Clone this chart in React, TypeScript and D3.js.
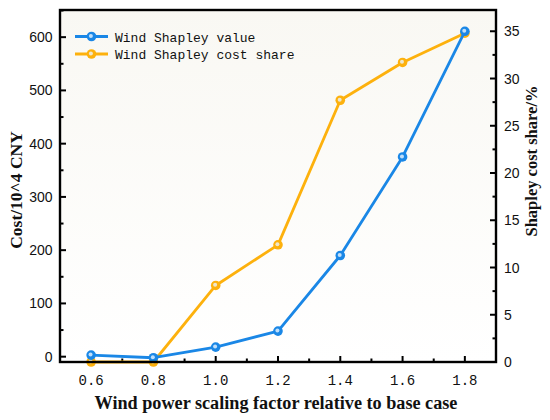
import React from 'react';
import * as d3 from 'd3';

const factors = [0.6, 0.8, 1.0, 1.2, 1.4, 1.6, 1.8];
const shapleyValue = [3, -2, 18, 48, 190, 375, 611];
const costShare = [0, 0, 8.1, 12.4, 27.7, 31.7, 34.8];
const leftTicks = [0, 100, 200, 300, 400, 500, 600];
const rightTicks = [0, 5, 10, 15, 20, 25, 30, 35];
const xTicks = [0.6, 0.8, 1.0, 1.2, 1.4, 1.6, 1.8];

const W = 550;
const H = 420;
const margin = { top: 10, right: 54, bottom: 58, left: 60 };

const BLUE = '#1a87e6';
const ORANGE = '#fdb10d';

const App: React.FC = () => {
  const x = d3.scaleLinear().domain([0.5, 1.9]).range([margin.left, W - margin.right]);
  const yL = d3.scaleLinear().domain([-10, 651]).range([H - margin.bottom, margin.top]);
  const yR = d3.scaleLinear().domain([0, 37.25]).range([H - margin.bottom, margin.top]);

  const x0 = margin.left;
  const x1 = W - margin.right;
  const y0 = H - margin.bottom;
  const y1 = margin.top;

  const blueLine = d3.line<number>()
    .x((_, i) => x(factors[i]))
    .y(d => yL(d));
  const orangeLine = d3.line<number>()
    .x((_, i) => x(factors[i]))
    .y(d => yR(d));

  const xMinor = d3.range(0.5, 1.95, 0.1).map(v => +v.toFixed(1)).filter(v => !xTicks.includes(v));
  const lMinor = d3.range(50, 651, 100);
  const rMinor = d3.range(2.5, 37.3, 5);

  const tickFont = '"Liberation Sans", Arial, sans-serif';
  const monoFont = '"Liberation Mono", "DejaVu Sans Mono", monospace';
  const titleFont = '"Liberation Serif", "Times New Roman", serif';

  // ball-like marker with a pale highlight
  const marker = (cx: number, cy: number, color: string, key: string) => (
    <g key={key}>
      <circle cx={cx} cy={cy} r={4.8} fill={color} />
      <circle cx={cx - 0.6} cy={cy - 0.6} r={2} fill="#eaf5ff" opacity={0.8} />
    </g>
  );

  return (
    <svg width={W} height={H} style={{ position: 'absolute', left: 0, top: 0, background: '#fff' }}>
      <defs>
        <linearGradient id="bg" x1="0" y1="0" x2="0" y2="1">
          <stop offset="0" stopColor="#f9f8f3" />
          <stop offset="1" stopColor="#ffffff" />
        </linearGradient>
      </defs>
      <rect x={x0} y={y1} width={x1 - x0} height={y0 - y1} fill="url(#bg)" />

      {/* x ticks */}
      {xTicks.map(t => (
        <g key={'xt' + t}>
          <line x1={x(t)} x2={x(t)} y1={y0} y2={y0 - 6} stroke="#000" strokeWidth={2} />
          <text x={x(t)} y={y0 + 23} textAnchor="middle" fontFamily={monoFont} fontSize={14} fill="#111">
            {t.toFixed(1)}
          </text>
        </g>
      ))}
      {xMinor.map(t => (
        <line key={'xm' + t} x1={x(t)} x2={x(t)} y1={y0} y2={y0 - 3.5} stroke="#000" strokeWidth={2} />
      ))}

      {/* left ticks */}
      {leftTicks.map(t => (
        <g key={'lt' + t}>
          <line x1={x0} x2={x0 + 6} y1={yL(t)} y2={yL(t)} stroke="#000" strokeWidth={2} />
          <text x={x0 - 7.5} y={yL(t) + 5} textAnchor="end" fontFamily={tickFont} fontSize={14} fill="#111">
            {t}
          </text>
        </g>
      ))}
      {lMinor.map(t => (
        <line key={'lm' + t} x1={x0} x2={x0 + 3.5} y1={yL(t)} y2={yL(t)} stroke="#000" strokeWidth={2} />
      ))}

      {/* right ticks */}
      {rightTicks.map(t => (
        <g key={'rt' + t}>
          <line x1={x1} x2={x1 - 6} y1={yR(t)} y2={yR(t)} stroke="#000" strokeWidth={2} />
          <text x={x1 + 8} y={yR(t) + 5} textAnchor="start" fontFamily={tickFont} fontSize={14} fill="#111">
            {t}
          </text>
        </g>
      ))}
      {rMinor.map(t => (
        <line key={'rm' + t} x1={x1} x2={x1 - 3.5} y1={yR(t)} y2={yR(t)} stroke="#000" strokeWidth={2} />
      ))}

      {/* series */}
      <path d={orangeLine(costShare) || ''} fill="none" stroke={ORANGE} strokeWidth={2.8} strokeLinejoin="round" />
      {costShare.map((v, i) => marker(x(factors[i]), yR(v), ORANGE, 'om' + i))}
      <path d={blueLine(shapleyValue) || ''} fill="none" stroke={BLUE} strokeWidth={2.8} strokeLinejoin="round" />
      {shapleyValue.map((v, i) => marker(x(factors[i]), yL(v), BLUE, 'bm' + i))}

      {/* frame */}
      <rect x={x0} y={y1} width={x1 - x0} height={y0 - y1} fill="none" stroke="#000" strokeWidth={2.4} />

      {/* legend */}
      <g>
        <line x1={75} x2={108} y1={36.5} y2={36.5} stroke={BLUE} strokeWidth={2.8} />
        {marker(91.5, 36.5, BLUE, 'lb')}
        <text x={115} y={41.5} fontFamily={monoFont} fontSize={13} fill="#111">Wind Shapley value</text>
        <line x1={75} x2={108} y1={54} y2={54} stroke={ORANGE} strokeWidth={2.8} />
        {marker(91.5, 54, ORANGE, 'lo')}
        <text x={115} y={59} fontFamily={monoFont} fontSize={13} fill="#111">Wind Shapley cost share</text>
      </g>

      {/* axis titles */}
      <text
        x={276}
        y={409}
        textAnchor="middle"
        fontFamily={titleFont}
        fontWeight="bold"
        fontSize={18.2}
        fill="#111"
      >
        Wind power scaling factor relative to base case
      </text>
      <text
        transform="translate(22, 190) rotate(-90)"
        textAnchor="middle"
        fontFamily={titleFont}
        fontWeight="bold"
        fontSize={17.5}
        fill="#111"
      >
        Cost/10^4 CNY
      </text>
      <text
        transform="translate(537, 161) rotate(-90)"
        textAnchor="middle"
        fontFamily={titleFont}
        fontWeight="bold"
        fontSize={16.5}
        fill="#111"
      >
        Shapley cost share/%
      </text>
    </svg>
  );
};

export default App;
